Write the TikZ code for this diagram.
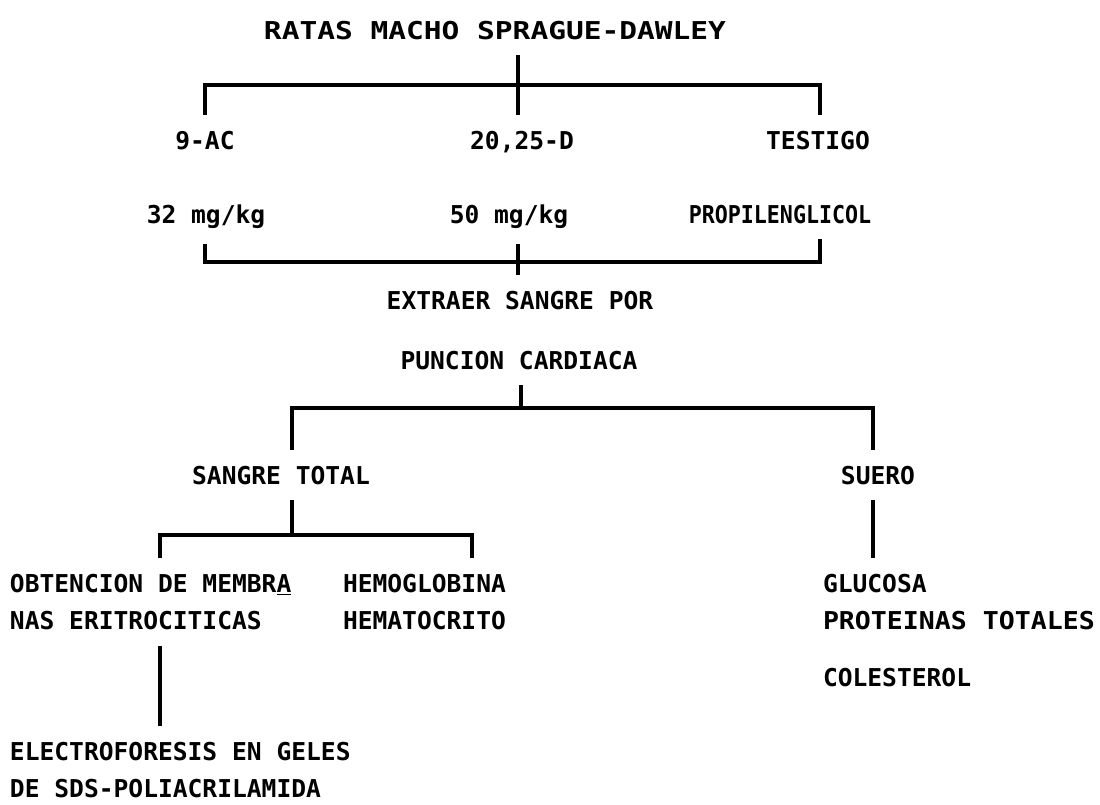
\documentclass[tikz,border=0pt]{standalone}
\usepackage{fontspec}
\setmonofont{DejaVu Sans Mono}
\usepackage{graphicx}
\usepackage{tikz}

\begin{document}
\begin{tikzpicture}[x=0.02cm, y=-0.02cm,
  txt/.style={font=\ttfamily\bfseries\fontsize{14}{21}\selectfont, inner sep=0pt, outer xsep=0pt, outer ysep=0.32cm},
  bar/.style={line width=2.3pt}]
  \useasboundingbox (0,0) rectangle (1100,805);

  \node[txt, anchor=base] (A) at (495,39) {\scalebox{1.2}[1]{RATAS MACHO SPRAGUE-DAWLEY}};
  \node[txt, anchor=base] (B) at (205,149) {9-AC};
  \node[txt, anchor=base] (C) at (522,149) {20,25-D};
  \node[txt, anchor=base] (D) at (818,149) {TESTIGO};

  \node[txt, anchor=base] (E) at (206,223) {32 mg/kg};
  \node[txt, anchor=base] (F) at (509,223) {50 mg/kg};
  \node[txt, anchor=base] (G) at (780,223) {\scalebox{0.88}[1]{PROPILENGLICOL}};

  \node[txt, anchor=base] (H) at (520,309) {EXTRAER SANGRE POR};
  \node[txt, anchor=base] (J) at (519,369) {PUNCION CARDIACA};

  \node[txt, anchor=base] (K) at (281,484) {SANGRE TOTAL};
  \node[txt, anchor=base] (L) at (878,484) {SUERO};

  \node[txt, anchor=north west, align=left] (M) at (10,558) {OBTENCION DE MEMBR\underline{A}\\ NAS ERITROCITICAS};
  \node[txt, anchor=north west, align=left] (N) at (343,558) {HEMOGLOBINA\\ HEMATOCRITO};
  \node[txt, anchor=north west, align=left] (P) at (10,726) {ELECTROFORESIS EN GELES\\ DE SDS-POLIACRILAMIDA};
  \node[txt, anchor=north west, align=left] (Q) at (823,558) {GLUCOSA\\ \scalebox{1.08}[1]{PROTEINAS TOTALES}\\[0.4cm] COLESTEROL};

  \coordinate (b1) at (518,85);
  \coordinate (b1l) at (205,85);
  \coordinate (b1r) at (820,85);
  \coordinate (b2) at (518,262);
  \coordinate (b2l) at (205,262);
  \coordinate (b2r) at (820,262);
  \coordinate (b3) at (521,408);
  \coordinate (b3l) at (292,408);
  \coordinate (b3r) at (873,408);
  \coordinate (b4) at (292,535);
  \coordinate (b4l) at (160,535);
  \coordinate (b4r) at (472,535);

  \draw[bar] (b1 |- A.south) -- (b1 |- C.north);
  \draw[bar] (b1l |- B.north) -- (b1l) -- (b1r) -- (b1r |- D.north);

  \draw[bar] (b2l |- E.south) -- (b2l) -- (b2r) -- (b2r |- G.south);
  \draw[bar] (b2 |- F.south) -- (b2 |- H.north);

  \draw[bar] (b3 |- J.south) -- (b3);
  \draw[bar] (b3l |- K.north) -- (b3l) -- (b3r) -- (b3r |- L.north);

  \draw[bar] (b4 |- K.south) -- (b4);
  \draw[bar] (b4l |- M.north) -- (b4l) -- (b4r) -- (b4r |- N.north);

  \draw[bar] (b4l |- M.south) -- (b4l |- P.north);
  \draw[bar] (b3r |- L.south) -- (b3r |- Q.north);

\end{tikzpicture}
\end{document}
